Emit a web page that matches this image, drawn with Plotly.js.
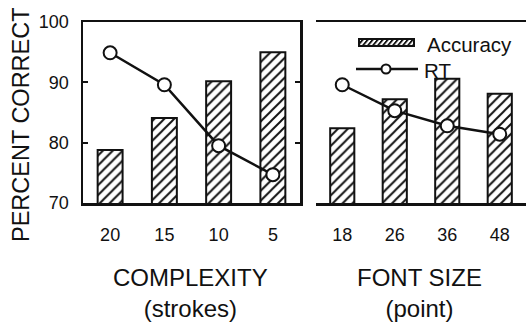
<!DOCTYPE html>
<html>
<head>
<meta charset="utf-8">
<script src="https://cdn.plot.ly/plotly-3.0.1.min.js"></script>
<style>
  html, body { margin: 0; padding: 0; background: #fff; }
  #chart { width: 528px; height: 325px; }
</style>
</head>
<body>
<div id="chart"></div>
<script>
// Complexity panel (number of strokes)
const complexityLabels = ["20", "15", "10", "5"];
const complexityAccuracy = [78.8, 84.1, 90.2, 95.0];
const complexityRT = [94.9, 89.6, 79.5, 74.7];

// Font size panel (point)
const fontSizeLabels = ["18", "26", "36", "48"];
const fontSizeAccuracy = [82.4, 87.2, 90.6, 88.1];
const fontSizeRT = [89.6, 85.3, 82.8, 81.4];

const yTicks = [70, 80, 90, 100];

const FONT = "Liberation Sans, Arial, Helvetica, sans-serif";
const INK = "#111";

function barTrace(x, y, xa) {
  return {
    type: "bar", x: x, y: y, xaxis: xa, yaxis: "y", width: 0.46,
    marker: {
      color: "white",
      line: { color: INK, width: 2 },
      pattern: { shape: "/", fgcolor: INK, bgcolor: "white", size: 7, solidity: 0.28 }
    },
    showlegend: false, hoverinfo: "skip"
  };
}
function lineTrace(x, y, xa) {
  return {
    type: "scatter", mode: "lines+markers", x: x, y: y, xaxis: xa, yaxis: "y",
    line: { color: INK, width: 2.5 },
    marker: { symbol: "circle", size: 13, color: "white", line: { color: INK, width: 2 } },
    showlegend: false, hoverinfo: "skip", cliponaxis: false
  };
}

const data = [
  barTrace(complexityLabels, complexityAccuracy, "x"),
  lineTrace(complexityLabels, complexityRT, "x"),
  barTrace(fontSizeLabels, fontSizeAccuracy, "x2"),
  lineTrace(fontSizeLabels, fontSizeRT, "x2")
];

// hatched legend swatch
const swatchSvg =
  '<svg xmlns="http://www.w3.org/2000/svg" width="57" height="9" viewBox="0 0 57 9">' +
  '<defs><pattern id="h" width="5" height="9" patternUnits="userSpaceOnUse" patternTransform="skewX(-40)">' +
  '<rect width="5" height="9" fill="white"/><rect width="2.4" height="9" fill="#111"/></pattern></defs>' +
  '<rect x="1" y="1" width="55" height="7" fill="url(#h)" stroke="#111" stroke-width="2"/></svg>';
const swatchUri = "data:image/svg+xml;base64," + btoa(swatchSvg);

const W = 528, H = 325;
const px = v => v / W;
const py = v => 1 - v / H;

const axisCommon = {
  type: "category", showline: true, linecolor: INK, linewidth: 2.5, mirror: "ticks",
  ticks: "", showgrid: false, zeroline: false, fixedrange: true,
  tickfont: { family: FONT, size: 18, color: INK }, ticklabelstandoff: 14
};
const yCommon = {
  range: [70, 100], tickvals: yTicks, ticks: "inside", ticklen: 5, tickwidth: 2, tickcolor: INK,
  showline: true, linecolor: INK, linewidth: 2.5, mirror: "ticks",
  showgrid: false, zeroline: false, fixedrange: true,
  tickfont: { family: FONT, size: 18, color: INK }, ticklabelstandoff: 8
};

function label(text, x, y, size, extra) {
  return Object.assign({
    text: text, xref: "paper", yref: "paper", x: px(x), y: py(y),
    xanchor: "center", yanchor: "middle", showarrow: false,
    font: { family: FONT, size: size, color: INK }
  }, extra || {});
}

const layout = {
  width: W, height: H,
  margin: { l: 0, r: 0, t: 0, b: 0 },
  paper_bgcolor: "white", plot_bgcolor: "white",
  showlegend: false,
  font: { family: FONT, color: INK },
  xaxis: Object.assign({}, axisCommon, { domain: [px(83), px(300)], anchor: "y" }),
  xaxis2: Object.assign({}, axisCommon, { domain: [px(316), px(526)], anchor: "y2" }),
  yaxis: Object.assign({}, yCommon, { domain: [py(203), py(22)], anchor: "x" }),
  yaxis2: Object.assign({}, yCommon, { domain: [py(203), py(22)], anchor: "x2", matches: "y", showticklabels: false }),
  annotations: [
    label("PERCENT CORRECT", 21, 125, 23.5, { textangle: -90 }),
    label("COMPLEXITY<br>(strokes)", 190, 293, 24),
    label("FONT SIZE<br>(point)", 419, 293, 24),
    label("Accuracy", 425, 44, 20.5, { xanchor: "left" }),
    label("RT", 422, 70, 20.5, { xanchor: "left" })
  ],
  shapes: [
    { type: "line", xref: "paper", yref: "paper", x0: px(356), x1: px(418), y0: py(69), y1: py(69),
      line: { color: INK, width: 2.5 } },
    { type: "circle", xref: "paper", yref: "paper", xsizemode: "pixel", ysizemode: "pixel",
      xanchor: px(386), yanchor: py(69), x0: -4.5, x1: 4.5, y0: -4.5, y1: 4.5,
      fillcolor: "white", line: { color: INK, width: 2 } }
  ],
  images: [
    { source: swatchUri, xref: "paper", yref: "paper", x: px(358), y: py(38),
      sizex: px(57), sizey: 9 / H, sizing: "stretch", xanchor: "left", yanchor: "top", layer: "above" }
  ]
};

Plotly.newPlot("chart", data, layout, { displayModeBar: false, staticPlot: true });
</script>
</body>
</html>
